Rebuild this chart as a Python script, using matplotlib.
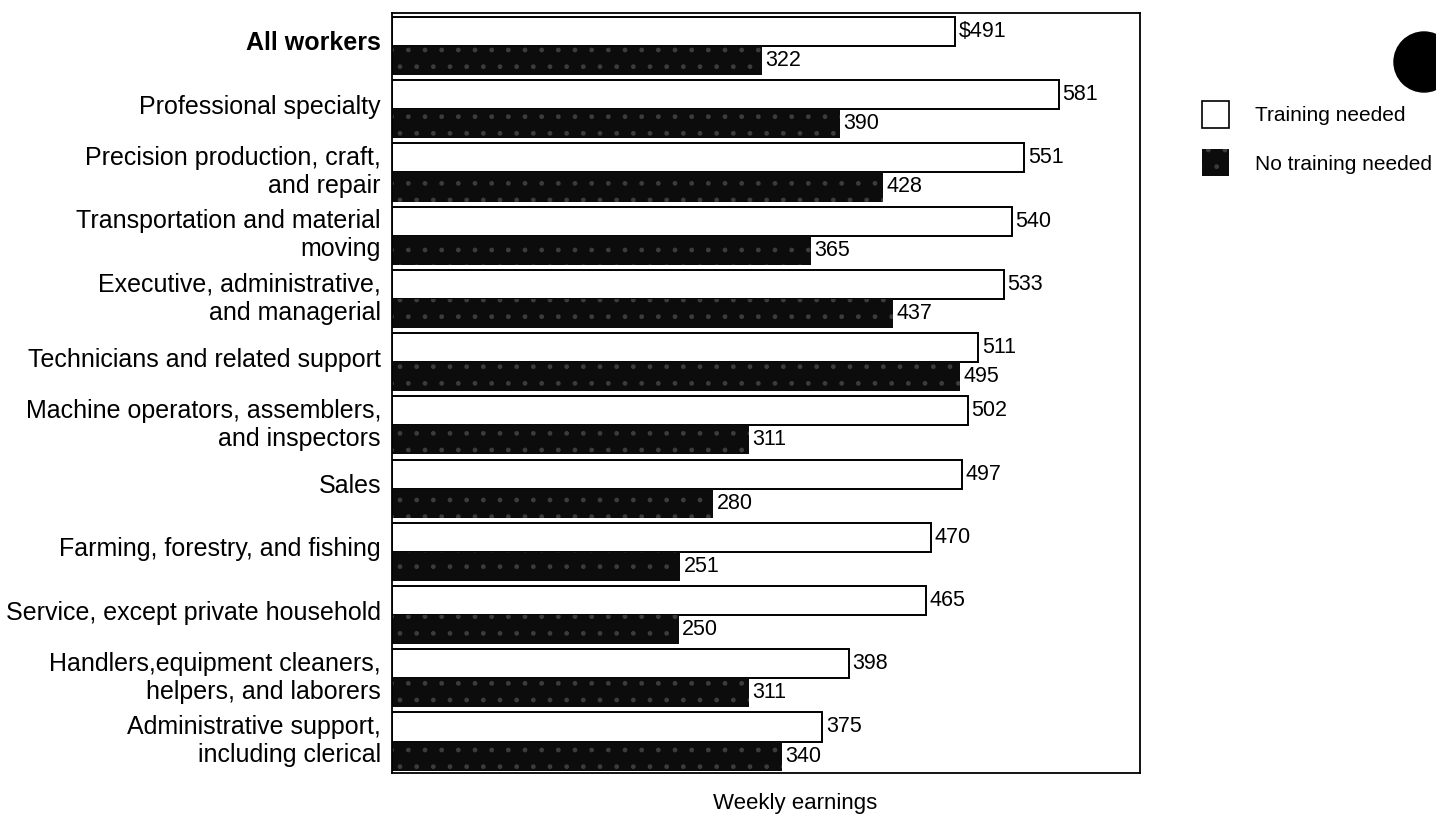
import matplotlib.pyplot as plt
from matplotlib.patches import Patch, Circle

plt.rcParams['font.family'] = ['Liberation Sans', 'DejaVu Sans']
plt.rcParams['hatch.linewidth'] = 1.0

# Weekly earnings by occupation, with and without training needed
occupations = [
    'All workers',
    'Professional specialty',
    'Precision production, craft,\nand repair',
    'Transportation and material\nmoving',
    'Executive, administrative,\nand managerial',
    'Technicians and related support',
    'Machine operators, assemblers,\nand inspectors',
    'Sales',
    'Farming, forestry, and fishing',
    'Service, except private household',
    'Handlers,equipment cleaners,\nhelpers, and laborers',
    'Administrative support,\nincluding clerical',
]
training_needed = [491, 581, 551, 540, 533, 511, 502, 497, 470, 465, 398, 375]
no_training_needed = [322, 390, 428, 365, 437, 495, 311, 280, 251, 250, 311, 340]

fig = plt.figure(figsize=(14.36, 8.19), dpi=100)
ax = fig.add_axes([0.273, 0.056, 0.521, 0.928])

pos = list(range(len(occupations)))
h = 0.46
white_y = [p - h / 2 for p in pos]
dark_y = [p + h / 2 for p in pos]

ax.barh(white_y, training_needed, height=h, color='white', edgecolor='black', linewidth=1.4)
ax.barh(dark_y, no_training_needed, height=h, color='#0c0c0c', edgecolor='#3c3c3c',
        linewidth=0, hatch='.')

for y, v in zip(white_y, training_needed):
    txt = f'${v}' if v == training_needed[0] else str(v)
    ax.text(v + 3, y, txt, va='center', ha='left', fontsize=15.5)
for y, v in zip(dark_y, no_training_needed):
    ax.text(v + 3, y, str(v), va='center', ha='left', fontsize=15.5)

ax.set_xlim(0, 652)
ax.set_ylim(11.5, -0.52)
ax.set_xticks([])
ax.set_yticks([p - 0.08 for p in pos])
ax.set_yticklabels(occupations, fontsize=18, linespacing=1.22, ha='right')
ax.get_yticklabels()[0].set_fontweight('bold')
ax.tick_params(axis='y', length=0, pad=8)
for s in ax.spines.values():
    s.set_linewidth(1.3)

fig.text(0.554, 0.0195, 'Weekly earnings', ha='center', va='center', fontsize=16)

# legend to the right of the plot box
handles = [
    Patch(facecolor='white', edgecolor='black', linewidth=1.2, label='Training needed'),
    Patch(facecolor='#0c0c0c', edgecolor='#3c3c3c', linewidth=0, hatch='.', label='No training needed'),
]
fig.legend(handles=handles, loc='upper left', bbox_to_anchor=(0.837, 0.877), frameon=False,
           fontsize=15, handlelength=1.3, handleheight=1.6, handletextpad=1.25,
           labelspacing=1.05, borderpad=0, borderaxespad=0)

# punched hole in the top right corner
fig.patches.append(Circle((1424, 757), 30, transform=None, color='black'))

fig.savefig('out.png', dpi=100)
